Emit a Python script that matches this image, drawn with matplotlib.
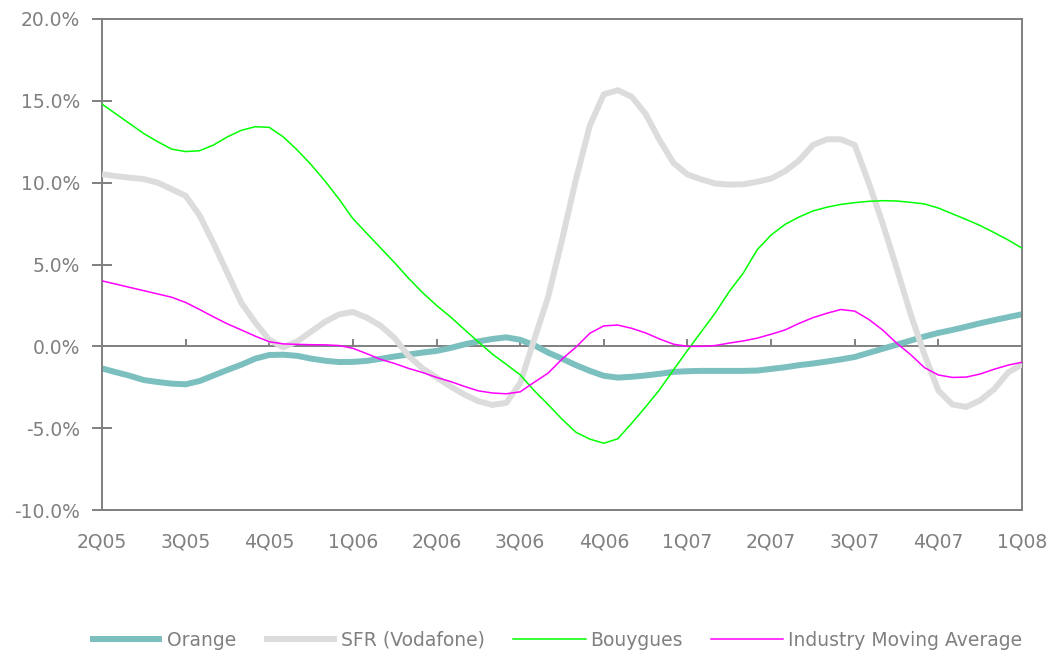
import numpy as np
import matplotlib
matplotlib.use("Agg")
import matplotlib.pyplot as plt

plt.rcParams['font.family'] = ['DejaVu Sans']

quarters = ['2Q05', '3Q05', '4Q05', '1Q06', '2Q06', '3Q06',
            '4Q06', '1Q07', '2Q07', '3Q07', '4Q07', '1Q08']

# samples every half month (6 per quarter), values in %
steps_per_quarter = 6

orange = [-1.35, -1.58, -1.80, -2.06, -2.18, -2.28, -2.32, -2.12, -1.78, -1.44,
          -1.12, -0.75, -0.53, -0.51, -0.58, -0.75, -0.88, -0.96, -0.95, -0.89,
          -0.76, -0.62, -0.50, -0.38, -0.28, -0.10, 0.12, 0.30, 0.45, 0.55,
          0.40, 0.07, -0.38, -0.75, -1.15, -1.50, -1.80, -1.91, -1.86, -1.78,
          -1.68, -1.56, -1.52, -1.50, -1.50, -1.50, -1.50, -1.48, -1.38, -1.28,
          -1.15, -1.05, -0.93, -0.80, -0.65, -0.40, -0.15, 0.10, 0.35, 0.60,
          0.82, 1.00, 1.20, 1.41, 1.60, 1.78, 1.96]

sfr = [10.52, 10.40, 10.30, 10.22, 10.00, 9.60, 9.20, 8.00, 6.30, 4.47,
       2.65, 1.45, 0.40, -0.06, 0.30, 0.90, 1.50, 1.95, 2.10, 1.75,
       1.25, 0.50, -0.60, -1.35, -1.90, -2.45, -2.95, -3.35, -3.58, -3.45,
       -2.25, 0.40, 3.00, 6.50, 10.20, 13.50, 15.40, 15.65, 15.25, 14.20,
       12.60, 11.20, 10.50, 10.20, 9.95, 9.88, 9.90, 10.05, 10.25, 10.70,
       11.35, 12.30, 12.65, 12.65, 12.30, 10.00, 7.52, 4.80, 2.00, -0.50,
       -2.70, -3.55, -3.70, -3.30, -2.62, -1.60, -1.10]

bouygues = [14.80, 14.20, 13.60, 13.00, 12.50, 12.05, 11.90, 11.95, 12.30, 12.80,
            13.20, 13.42, 13.38, 12.80, 12.00, 11.10, 10.10, 9.00, 7.80, 6.90,
            6.00, 5.10, 4.15, 3.28, 2.50, 1.80, 1.03, 0.27, -0.47, -1.10,
            -1.74, -2.70, -3.55, -4.45, -5.25, -5.67, -5.92, -5.65, -4.70, -3.70,
            -2.65, -1.44, -0.25, 0.90, 2.05, 3.35, 4.47, 5.90, 6.80, 7.45,
            7.90, 8.27, 8.50, 8.67, 8.78, 8.86, 8.90, 8.88, 8.80, 8.70,
            8.45, 8.10, 7.75, 7.38, 6.95, 6.50, 6.00]

industry = [4.00, 3.80, 3.60, 3.40, 3.20, 3.00, 2.68, 2.25, 1.80, 1.37,
            1.00, 0.62, 0.28, 0.15, 0.12, 0.10, 0.09, 0.05, -0.12, -0.45,
            -0.80, -1.05, -1.35, -1.60, -1.90, -2.15, -2.45, -2.72, -2.85, -2.90,
            -2.78, -2.20, -1.64, -0.78, -0.05, 0.80, 1.25, 1.30, 1.10, 0.82,
            0.45, 0.13, 0.00, 0.00, 0.05, 0.20, 0.33, 0.50, 0.74, 1.00,
            1.40, 1.75, 2.02, 2.25, 2.15, 1.65, 1.00, 0.20, -0.50, -1.30,
            -1.75, -1.90, -1.88, -1.69, -1.40, -1.15, -0.97]

yticks = [-10, -5, 0, 5, 10, 15, 20]

GRAY = '#808080'

fig = plt.figure(figsize=(10.64, 6.53), dpi=100)
ax = fig.add_axes([102 / 1064, 1 - 510 / 653, 920 / 1064, 491 / 653])

x = np.arange(len(orange)) / steps_per_quarter
qpos = np.arange(len(quarters))

# zero line and its small ticks
ax.axhline(0, color=GRAY, lw=1.4, zorder=1)
ax.vlines(qpos[1:], 0, 0.45, color=GRAY, lw=1.4, zorder=1)

ax.plot(x, orange, color='#7BBFBF', lw=4.3, label='Orange', zorder=2,
        solid_capstyle='butt')
ax.plot(x, sfr, color='#DCDCDC', lw=4.3, label='SFR (Vodafone)', zorder=3,
        solid_capstyle='butt')
ax.plot(x, bouygues, color='#00FF00', lw=1.1, label='Bouygues', zorder=4)
ax.plot(x, industry, color='#FF00FF', lw=1.1, label='Industry Moving Average', zorder=5)

ax.set_xlim(0, len(quarters) - 1)
ax.set_ylim(-10, 20)
ax.set_yticks(yticks)
ax.set_yticklabels([f'{v:.1f}%' for v in yticks])
ax.set_xticks(qpos)
ax.set_xticklabels(quarters)

for sp in ax.spines.values():
    sp.set_color(GRAY)
    sp.set_linewidth(1.4)

ax.tick_params(axis='y', direction='inout', length=14, width=1.4, color=GRAY,
               labelcolor=GRAY, labelsize=13.5, pad=9)
ax.tick_params(axis='x', length=0, labelcolor=GRAY, labelsize=13.5, pad=16)

leg = fig.legend(loc='center', bbox_to_anchor=(556 / 1064, 1 - 640 / 653), ncol=4,
                 frameon=False, fontsize=13.5, handlelength=3.85, handletextpad=0.25,
                 columnspacing=1.5)
for t in leg.get_texts():
    t.set_color(GRAY)

fig.savefig('out.png', dpi=100)
